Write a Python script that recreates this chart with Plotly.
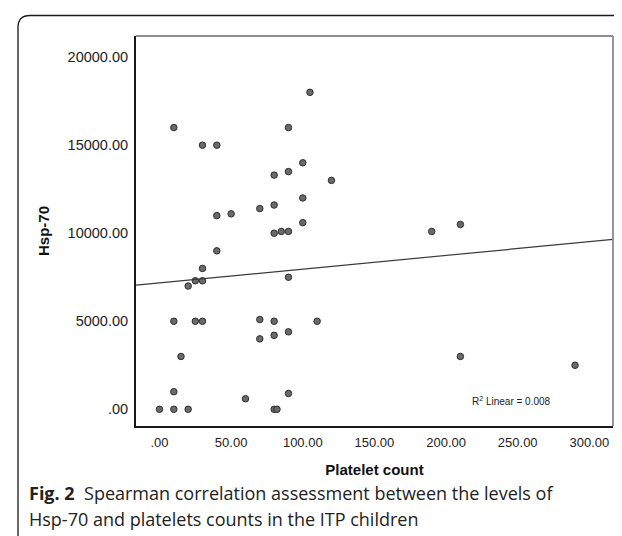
import plotly.graph_objects as go

# ---- data ----
platelet = [105, 10, 90, 30, 40, 100, 90, 80, 120, 100, 80, 70, 40, 50, 100, 80, 85, 90, 40, 30,
            90, 25, 30, 20, 10, 25, 30, 70, 80, 110, 90, 80, 70, 15, 10, 90, 60, 0, 10, 20, 80, 82,
            190, 210, 210, 290]
hsp70 = [18000, 16000, 16000, 15000, 15000, 14000, 13500, 13300, 13000, 12000, 11600, 11400, 11000,
         11100, 10600, 10000, 10100, 10100, 9000, 8000,
         7500, 7300, 7300, 7000, 5000, 5000, 5000, 5100, 5000, 5000, 4400, 4200, 4000, 3000, 1000,
         900, 600, 0, 0, 0, 0, 0,
         10100, 10500, 3000, 2500]
fit_intercept = 7180
fit_slope = 7.8
r2_text = "R<sup>2</sup> Linear = 0.008"

x_tickvals = [0, 50, 100, 150, 200, 250, 300]
x_ticktext = [".00", "50.00", "100.00", "150.00", "200.00", "250.00", "300.00"]
y_tickvals = [0, 5000, 10000, 15000, 20000]
y_ticktext = [".00", "5000.00", "10000.00", "15000.00", "20000.00"]

x_title = "Platelet count"
y_title = "Hsp-70"
caption_1 = "<b>Fig. 2</b>  Spearman correlation assessment between the levels of"
caption_2 = "Hsp-70 and platelets counts in the ITP children"

# ---- layout geometry (pixels) ----
W, H = 622, 536
L, R, T, B = 128, 605, 27.5, 417.7
xr = [-16.4, 316.5]
yr = [-948, 21200]

def px(x):
    return (x - L) / (R - L)

def py(y):
    return (B - y) / (B - T)

fig = go.Figure()
fig.add_trace(go.Scatter(
    x=platelet, y=hsp70, mode="markers",
    marker=dict(size=6.5, color="#6a6a6a", line=dict(color="#2e2e2e", width=1)),
    showlegend=False, hoverinfo="skip"))

fx = list(xr)
fy = [fit_intercept + fit_slope * v for v in fx]
fig.add_trace(go.Scatter(x=fx, y=fy, mode="lines",
                         line=dict(color="#3a3a3a", width=1.2),
                         showlegend=False, hoverinfo="skip"))

font_ax = "Arial"
fig.update_layout(
    width=W, height=H,
    margin=dict(l=L, r=W - R, t=T, b=H - B, pad=0),
    paper_bgcolor="white", plot_bgcolor="white",
    font=dict(family=font_ax),
    xaxis=dict(range=xr, showgrid=False, zeroline=False, showline=True,
               linecolor="#1a1a1a", linewidth=2, mirror=False,
               tickvals=x_tickvals, ticktext=x_ticktext,
               ticks="outside", ticklen=3, tickcolor="rgba(0,0,0,0)",
               tickfont=dict(family=font_ax, size=13, color="#222"),
               title=dict(text="<b>" + x_title + "</b>", standoff=16,
                          font=dict(family=font_ax, size=15, color="#111"))),
    yaxis=dict(range=yr, showgrid=False, zeroline=False, showline=True,
               linecolor="#1a1a1a", linewidth=2, mirror=False,
               tickvals=y_tickvals, ticktext=y_ticktext,
               ticks="outside", ticklen=3, tickcolor="rgba(0,0,0,0)",
               tickfont=dict(family=font_ax, size=14.5, color="#222"),
               title=dict(text="<b>" + y_title + "</b>", standoff=14,
                          font=dict(family=font_ax, size=15, color="#111"))),
)

# light grey top/right frame of the plot box
fig.add_shape(type="line", xref="paper", yref="paper", x0=0, y0=1, x1=1, y1=1,
              line=dict(color="#8c8c8c", width=1.8))
fig.add_shape(type="line", xref="paper", yref="paper", x0=1, y0=0, x1=1, y1=1,
              line=dict(color="#8c8c8c", width=1.8))

# outer rounded frame (top and left edges)
fl, ft, fr, rad = 10, 7, 640, 12
path = (f"M {px(fl)},{py(H + 5)} L {px(fl)},{py(ft + rad)} "
        f"Q {px(fl)},{py(ft)} {px(fl + rad)},{py(ft)} L {px(fr)},{py(ft)}")
fig.add_shape(type="path", xref="paper", yref="paper", path=path,
              line=dict(color="#1a1a1a", width=1.3))

# R² annotation
fig.add_annotation(x=px(503), y=py(393), xref="paper", yref="paper", text=r2_text,
                   showarrow=False, font=dict(family=font_ax, size=10, color="#222"),
                   xanchor="center", yanchor="middle")

# caption
cap_font = dict(family="Open Sans", size=18, color="#222")
fig.add_annotation(x=px(19), y=py(485), xref="paper", yref="paper", text=caption_1,
                   showarrow=False, font=cap_font, xanchor="left", yanchor="middle")
fig.add_annotation(x=px(19), y=py(511), xref="paper", yref="paper", text=caption_2,
                   showarrow=False, font=cap_font, xanchor="left", yanchor="middle")

fig.write_html("out.html")
